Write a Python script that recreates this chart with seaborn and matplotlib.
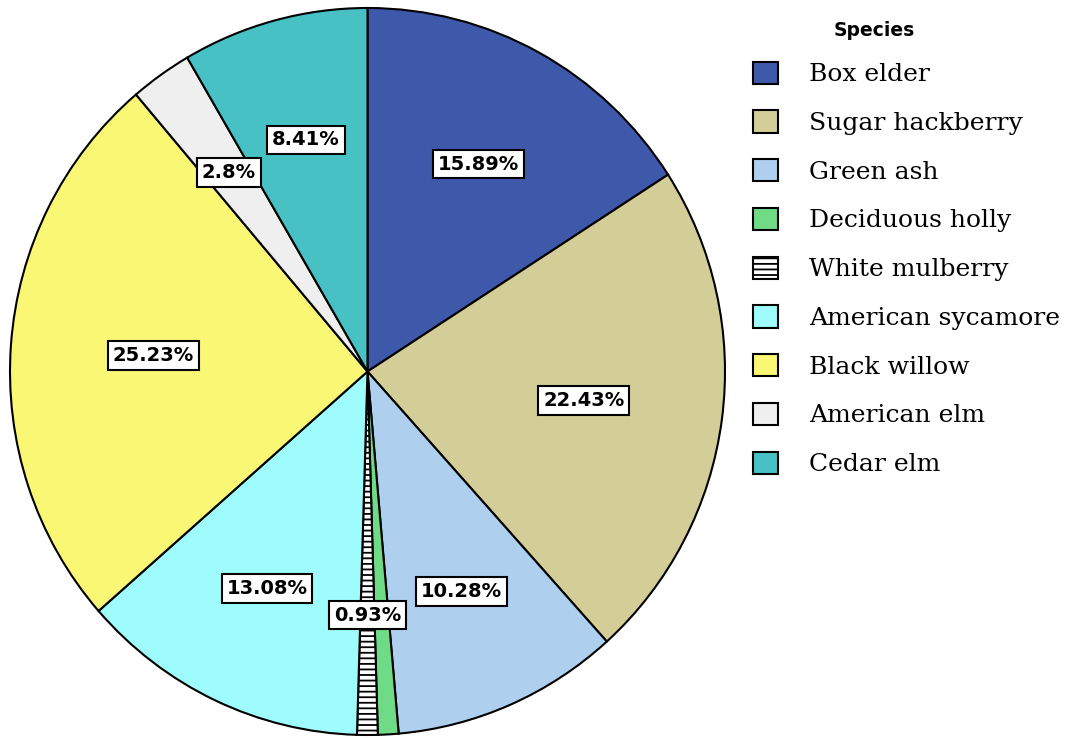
import matplotlib
matplotlib.use('Agg')
import matplotlib.pyplot as plt
import seaborn as sns
import numpy as np

# Species shares (%)
species = ['Box elder', 'Sugar hackberry', 'Green ash', 'Deciduous holly',
           'White mulberry', 'American sycamore', 'Black willow',
           'American elm', 'Cedar elm']
shares = [15.89, 22.43, 10.28, 0.93, 0.93, 13.08, 25.23, 2.8, 8.41]
labels = ['15.89%', '22.43%', '10.28%', '', '0.93%', '13.08%', '25.23%', '2.8%', '8.41%']
colors = ['#3F59AA', '#D3CD98', '#AED0EE', '#6FDB87', '#FFFFFF',
          '#9EFCFC', '#FAF774', '#EFEFEF', '#48C1C5']
label_dist = [0.65, 0.61, 0.66, 0.67, 0.67, 0.66, 0.60, 0.67, 0.66]

sns.set_theme(style='white')
plt.rcParams['hatch.linewidth'] = 1.3

fig = plt.figure(figsize=(10.7, 7.38), dpi=100)
ax = fig.add_axes([10 / 1070, 3 / 738, 715 / 1070, 727 / 738])

wedges, _ = ax.pie(shares, colors=colors, startangle=90, counterclock=False,
                   wedgeprops=dict(edgecolor='black', linewidth=1.5))
wedges[4].set_hatch('---')

# percentage labels in white boxes
for w, lab, d in zip(wedges, labels, label_dist):
    if not lab:
        continue
    ang = np.deg2rad((w.theta1 + w.theta2) / 2)
    ax.text(d * np.cos(ang), d * np.sin(ang), lab, ha='center', va='center',
            fontsize=14, fontweight='bold', family='DejaVu Sans', color='black',
            bbox=dict(boxstyle='square,pad=0.25', facecolor='white',
                      edgecolor='black', linewidth=1.5))

ax.set_aspect('auto')
ax.set_xlim(-1, 1)
ax.set_ylim(-1, 1)
ax.axis('off')

leg = fig.legend(wedges, species, loc='upper left',
                 bbox_to_anchor=(730 / 1070, 1 - 39 / 738),
                 frameon=False, labelcolor='black',
                 prop={'family': 'DejaVu Serif', 'size': 18},
                 handlelength=1.0, handleheight=1.0, handletextpad=1.25,
                 labelspacing=0.96)
fig.text(874 / 1070, 1 - 31 / 738, 'Species', ha='center', va='center',
         fontsize=13.5, fontweight='bold', family='DejaVu Sans', color='black')

fig.savefig('out.png', dpi=100, facecolor='white')
